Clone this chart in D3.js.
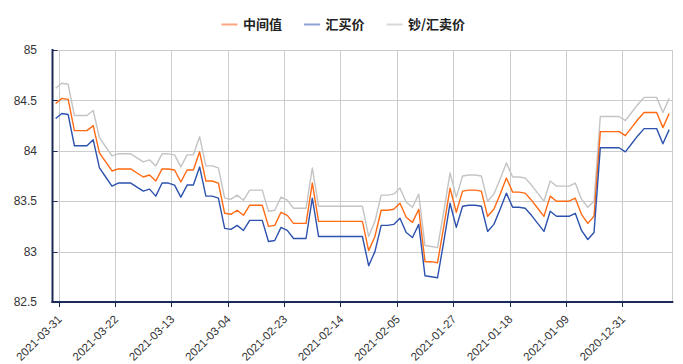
<!DOCTYPE html>
<html><head><meta charset="utf-8">
<script src="https://cdn.jsdelivr.net/npm/d3@7/dist/d3.min.js"></script>
<style>
html,body{margin:0;padding:0;background:#fff;}
svg{display:block;}
</style></head>
<body><svg id="c" width="683" height="364"></svg>
<script>
// ---- data ----
const seriesNames = ["中间值", "汇买价", "钞/汇卖价"];
const seriesColors = ["#ff6a13", "#2d52ae", "#c4c4c4"];
const legendColors = ["#fda57f", "#8fa2d4", "#d9d9d9"];
const tickLabels = ["2021-03-31","2021-03-22","2021-03-13","2021-03-04","2021-02-23","2021-02-14","2021-02-05","2021-01-27","2021-01-18","2021-01-09","2020-12-31"];
const yTicks = [82.5, 83, 83.5, 84, 84.5, 85];
const midRate = [84.47,84.52,84.51,84.20,84.20,84.20,84.25,83.98,83.89,83.80,
  83.82,83.82,83.82,83.78,83.74,83.76,83.70,83.82,83.82,83.81,
  83.69,83.81,83.81,83.99,83.70,83.70,83.68,83.38,83.37,83.41,
  83.36,83.46,83.46,83.46,83.25,83.26,83.39,83.36,83.28,83.28,
  83.28,83.68,83.30,83.30,83.30,83.30,83.30,83.30,83.30,83.30,
  83.01,83.15,83.41,83.41,83.42,83.48,83.34,83.29,83.42,82.90,
  82.90,82.89,83.25,83.63,83.39,83.60,83.61,83.61,83.60,83.35,
  83.42,83.57,83.73,83.59,83.59,83.58,83.51,83.43,83.35,83.55,
  83.50,83.50,83.50,83.53,83.37,83.28,83.35,84.19,84.19,84.19,
  84.19,84.15,84.23,84.31,84.38,84.38,84.38,84.23,84.37];
const buyRate = [84.32,84.37,84.36,84.05,84.05,84.05,84.11,83.83,83.74,83.65,
  83.68,83.68,83.68,83.64,83.60,83.62,83.55,83.68,83.68,83.66,
  83.54,83.66,83.66,83.84,83.55,83.55,83.53,83.23,83.22,83.26,
  83.21,83.31,83.31,83.31,83.10,83.11,83.24,83.21,83.13,83.13,
  83.13,83.53,83.15,83.15,83.15,83.15,83.15,83.15,83.15,83.15,
  82.86,83.00,83.26,83.26,83.27,83.33,83.19,83.14,83.27,82.76,
  82.75,82.74,83.10,83.48,83.24,83.45,83.46,83.46,83.45,83.20,
  83.27,83.42,83.58,83.44,83.44,83.43,83.36,83.28,83.20,83.40,
  83.35,83.35,83.35,83.38,83.21,83.12,83.19,84.03,84.03,84.03,
  84.03,83.99,84.07,84.15,84.22,84.22,84.22,84.07,84.21];
const sellRate = [84.62,84.67,84.66,84.35,84.35,84.35,84.40,84.13,84.04,83.95,
  83.97,83.97,83.97,83.93,83.89,83.91,83.85,83.97,83.97,83.96,
  83.84,83.96,83.96,84.14,83.85,83.85,83.83,83.53,83.52,83.56,
  83.51,83.61,83.61,83.61,83.40,83.41,83.54,83.51,83.43,83.43,
  83.43,83.83,83.45,83.45,83.45,83.45,83.45,83.45,83.45,83.45,
  83.15,83.30,83.56,83.56,83.57,83.63,83.49,83.44,83.57,83.06,
  83.05,83.04,83.40,83.78,83.54,83.75,83.76,83.76,83.75,83.50,
  83.57,83.72,83.88,83.74,83.74,83.73,83.66,83.58,83.50,83.70,
  83.65,83.65,83.65,83.68,83.52,83.44,83.50,84.34,84.34,84.34,
  84.34,84.30,84.38,84.46,84.53,84.53,84.53,84.38,84.52];
const tickEvery = 9;

// categories: consecutive days, latest first
const startDate = new Date(2021, 2, 31);
const categories = d3.range(midRate.length).map(i => d3.timeFormat("%Y-%m-%d")(d3.timeDay.offset(startDate, -i)));

// ---- layout ----
const svg = d3.select("#c");
const L = 52.5, R = 672.3, T = 50, B = 302;
const axisColor = "#1c2a57";
const textColor = "#333";
const font = "'Liberation Sans', Arial, sans-serif";

const x = d3.scaleBand().domain(d3.range(categories.length)).range([L, R]).paddingInner(0).paddingOuter(0);
const bw = x.bandwidth();
const cx = i => x(i) + bw / 2;
const y = d3.scaleLinear().domain([82.5, 85]).range([B, T]);

// horizontal grid
svg.append("g").selectAll("line").data(yTicks).join("line")
  .attr("x1", L).attr("x2", R).attr("y1", d => Math.round(y(d)) + 0.5).attr("y2", d => Math.round(y(d)) + 0.5)
  .attr("stroke", "#cccccc").attr("stroke-width", 1);

// vertical grid at label ticks
const tickIdx = tickLabels.map((t, k) => 1 + k * tickEvery);
svg.append("g").selectAll("line").data(tickIdx).join("line")
  .attr("x1", d => Math.round(x(d)) + 0.5).attr("x2", d => Math.round(x(d)) + 0.5)
  .attr("y1", T).attr("y2", B)
  .attr("stroke", "#cccccc").attr("stroke-width", 1);
// right border
svg.append("line").attr("x1", Math.round(R) + 0.5).attr("x2", Math.round(R) + 0.5).attr("y1", T).attr("y2", B)
  .attr("stroke", "#cccccc");

// lines
const line = d3.line().x((d, i) => cx(i)).y(d => y(d));
const seriesData = [sellRate, midRate, buyRate];
const seriesOrder = [2, 0, 1];
seriesData.forEach((s, j) => {
  svg.append("path").datum(s).attr("d", line).attr("fill", "none")
    .attr("stroke", seriesColors[seriesOrder[j]]).attr("stroke-width", 1.4)
    .attr("stroke-linejoin", "round");
});

// y axis
const yAxis = svg.append("g");
yAxis.append("line").attr("x1", L).attr("x2", L).attr("y1", T - 1).attr("y2", B + 1)
  .attr("stroke", axisColor).attr("stroke-width", 2);
yAxis.selectAll("line.t").data(yTicks).join("line").attr("class", "t")
  .attr("x1", L).attr("x2", L + 5).attr("y1", d => Math.round(y(d)) + 0.5).attr("y2", d => Math.round(y(d)) + 0.5)
  .attr("stroke", axisColor).attr("stroke-width", 1);
yAxis.selectAll("text").data(yTicks).join("text")
  .attr("x", 37).attr("y", d => y(d)).attr("dy", "0.35em").attr("text-anchor", "end")
  .attr("font-family", font).attr("font-size", 12).attr("fill", textColor)
  .text(d => d3.format("~g")(d));

// x axis
const xAxis = svg.append("g");
xAxis.append("line").attr("x1", L - 1).attr("x2", R + 1).attr("y1", B).attr("y2", B)
  .attr("stroke", axisColor).attr("stroke-width", 2);
xAxis.selectAll("line.t").data(tickIdx).join("line").attr("class", "t")
  .attr("x1", d => Math.round(x(d)) + 0.5).attr("x2", d => Math.round(x(d)) + 0.5)
  .attr("y1", B).attr("y2", B + 5).attr("stroke", axisColor).attr("stroke-width", 1);
xAxis.selectAll("text").data(tickLabels).join("text")
  .attr("transform", (d, k) => `translate(${x(tickIdx[k]) + 1},${B + 15}) rotate(-45)`)
  .attr("text-anchor", "end").attr("dy", "0.35em")
  .attr("font-family", font).attr("font-size", 11.5).attr("fill", textColor)
  .text(d => d);

// legend
const legendItems = [
  {name: seriesNames[0], color: legendColors[0], x: 221.5},
  {name: seriesNames[1], color: legendColors[1], x: 304},
  {name: seriesNames[2], color: legendColors[2], x: 386.5}
];
const lg = svg.append("g");
legendItems.forEach(it => {
  lg.append("line").attr("x1", it.x).attr("x2", it.x + 16).attr("y1", 24.5).attr("y2", 24.5)
    .attr("stroke", it.color).attr("stroke-width", 2);
  lg.append("text").attr("x", it.x + 21.5).attr("y", 24).attr("dy", "0.35em")
    .attr("font-family", "'Noto Sans CJK SC', sans-serif").attr("font-size", 13).attr("font-weight", "bold")
    .attr("fill", "#222").text(it.name);
});
</script>
</body></html>
